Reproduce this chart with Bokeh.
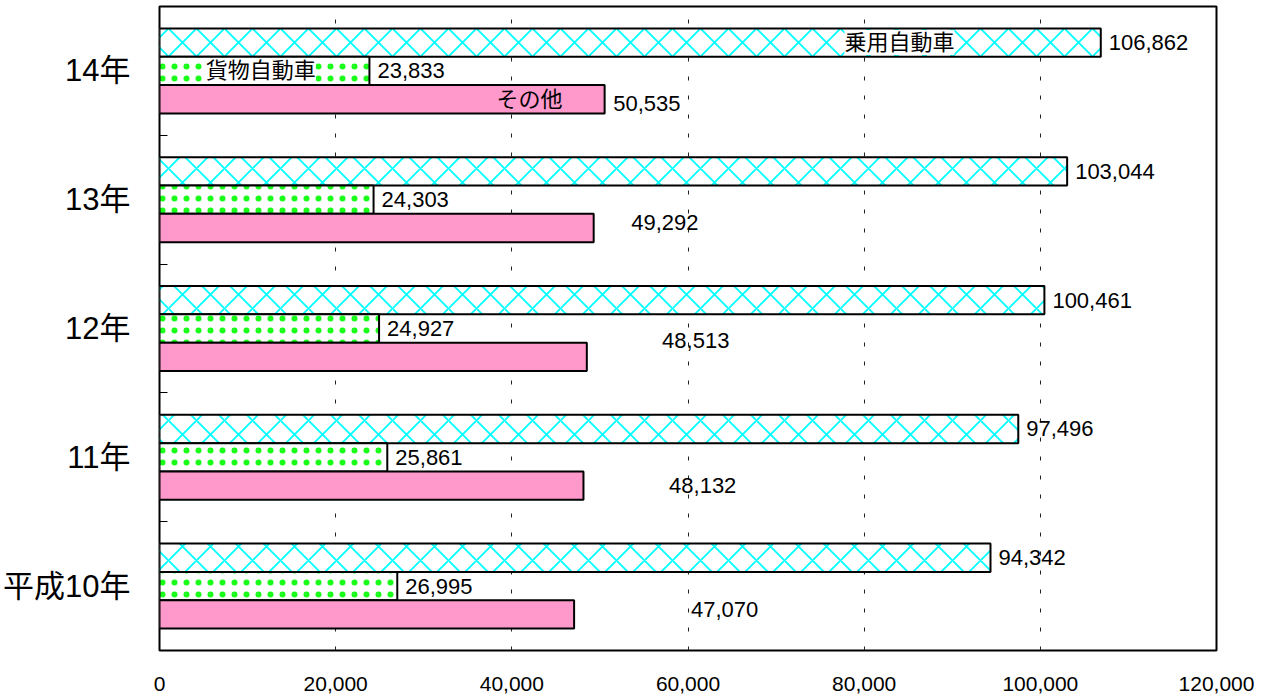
from bokeh.plotting import figure
from bokeh.models import ColumnDataSource, Range1d, FixedTicker, NumeralTickFormatter
from bokeh.transform import dodge
from bokeh.core.properties import value
from bokeh.embed import file_html
from bokeh.resources import INLINE

# ---- data (bottom to top) ----
years = ["平成10年", "11年", "12年", "13年", "14年"]
passenger = [94342, 97496, 100461, 103044, 106862]   # 乗用自動車
cargo = [26995, 25861, 24927, 24303, 23833]          # 貨物自動車
other = [47070, 48132, 48513, 49292, 50535]          # その他
series_names = ["乗用自動車", "貨物自動車", "その他"]
x_ticks = [0, 20000, 40000, 60000, 80000, 100000, 120000]

# ---- label placement (layout, as in the original chart) ----
other_label_x = [60340, 57850, 57060, 53550, 51510]
other_label_dy = [0.04, 0.0, 0.125, 0.04, -0.03]
name_label_x = [84000, 11500, 42000]

FONT = "Liberation Sans, Noto Sans CJK JP"
pos = [i + 0.5 for i in range(len(years))]
OFF = 0.22
H = 0.22

src = ColumnDataSource(dict(
    pos=pos, years=years, passenger=passenger, cargo=cargo, other=other,
    p_lbl=[f"{v:,}" for v in passenger],
    c_lbl=[f"{v:,}" for v in cargo],
    o_lbl=[f"{v:,}" for v in other],
    o_x=other_label_x,
    o_y=[p - OFF + d for p, d in zip(pos, other_label_dy)],
))

p = figure(width=1259, height=696, output_backend="svg", toolbar_location=None,
           x_range=Range1d(0, 120000), y_range=Range1d(0, len(years)),
           min_border_left=156, min_border_right=43, min_border_top=6,
           min_border_bottom=46)
p.outline_line_color = "black"
p.outline_line_width = 2
p.background_fill_color = "white"
p.border_fill_color = "white"

# grid
p.ygrid.visible = False
p.xgrid.grid_line_color = "#222222"
p.xgrid.grid_line_dash = "4 15"
p.xgrid.grid_line_width = 1

# x axis
p.xaxis.ticker = FixedTicker(ticks=x_ticks)
p.xaxis.formatter = NumeralTickFormatter(format="0,0")
p.xaxis.axis_line_color = None
p.xaxis.major_tick_line_color = None
p.xaxis.minor_tick_line_color = None
p.xaxis.major_label_text_font = FONT
p.xaxis.major_label_text_font_size = "21px"
p.xaxis.major_label_text_color = "black"
p.xaxis.major_label_standoff = 20

# y axis: labels at group centers, inside ticks at group boundaries
p.yaxis.ticker = FixedTicker(ticks=pos, minor_ticks=[i for i in range(1, len(years))])
p.yaxis.major_label_overrides = {pv: y for pv, y in zip(pos, years)}
p.yaxis.axis_line_color = None
p.yaxis.major_tick_line_color = None
p.yaxis.minor_tick_line_color = "black"
p.yaxis.minor_tick_in = 8
p.yaxis.minor_tick_out = 0
p.yaxis.minor_tick_line_width = 1
p.yaxis.major_label_text_font = FONT
p.yaxis.major_label_text_font_size = "31px"
p.yaxis.major_label_text_color = "black"
p.yaxis.major_label_standoff = 23

# bars
p.hbar(y=dodge("pos", OFF), right="passenger", left=0, height=H, source=src,
       fill_color="white", hatch_pattern="diagonal_cross", hatch_color="#00FFFF",
       hatch_scale=28, hatch_weight=1.8, line_color="black", line_width=2)
p.hbar(y="pos", right="cargo", left=0, height=H, source=src,
       fill_color="white", hatch_pattern="dot", hatch_color="#00FF00",
       hatch_scale=12, hatch_weight=0.5, hatch_alpha=0.9,
       line_color="black", line_width=2)
p.hbar(y=dodge("pos", -OFF), right="other", left=0, height=H, source=src,
       fill_color="#FF99CC", line_color="black", line_width=2)

# value labels
p.text(x="passenger", y=dodge("pos", OFF), text="p_lbl", source=src, x_offset=8,
       text_font=value(FONT), text_font_size="22px", text_baseline="middle",
       text_align="left", text_color="black")
p.text(x="cargo", y="pos", text="c_lbl", source=src, x_offset=8,
       text_font=value(FONT), text_font_size="22px", text_baseline="middle",
       text_align="left", text_color="black", background_fill_color="white")
p.text(x="o_x", y="o_y", text="o_lbl", source=src,
       text_font=value(FONT), text_font_size="22px", text_baseline="middle",
       text_align="left", text_color="black")

# series name labels inside the top group's bars
top = pos[-1]
name_src = ColumnDataSource(dict(
    x=name_label_x[:2], y=[top + OFF, top], t=series_names[:2]))
p.text(x="x", y="y", text="t", source=name_src,
       text_font=value(FONT), text_font_size="22px", text_baseline="middle",
       text_align="center", text_color="black", background_fill_color="white")
p.text(x=[name_label_x[2]], y=[top - OFF], text=[series_names[2]],
       text_font=value(FONT), text_font_size="22px", text_baseline="middle",
       text_align="center", text_color="black")

open("out.html", "w").write(file_html(p, INLINE))
